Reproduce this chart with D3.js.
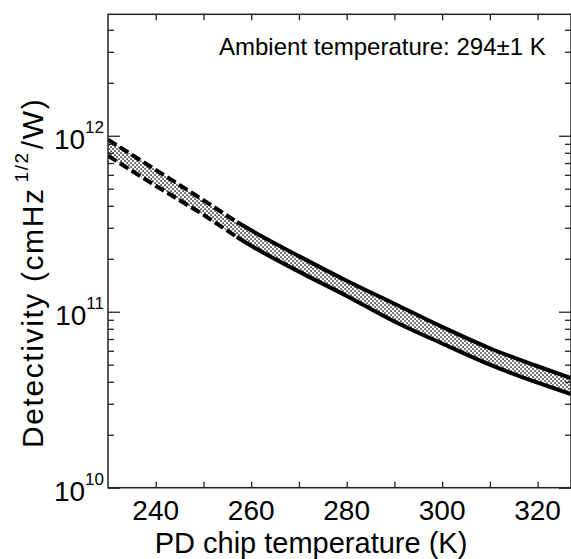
<!DOCTYPE html>
<html lang="en">
<head>
<meta charset="UTF-8">
<title>Detectivity vs PD chip temperature</title>
<script src="https://cdn.jsdelivr.net/npm/d3@7"></script>
<style>
    body { margin: 0; background: #fff; }
    text { font-family: "Liberation Sans", Arial, Helvetica, sans-serif; fill: #000; }
</style>
</head>
<body>
<div id="chart"></div>
<script>
    // values
    var temps  = [230, 240, 250, 257, 260, 270, 280, 290, 300, 310, 320, 327];
    var upperD = [9.5e11, 6.4e11, 4.3e11, 3.23e11, 2.9e11, 2.07e11, 1.5e11, 1.11e11, 8.2e10, 6.2e10, 4.9e10, 4.2e10];
    var lowerD = [7.7e11, 5.2e11, 3.55e11, 2.66e11, 2.37e11, 1.69e11, 1.23e11, 8.8e10, 6.6e10, 5.0e10, 3.95e10, 3.4e10];
    var splitT = 257;   // curves are dashed below this temperature

    var xLabels = [240, 260, 280, 300, 320];
    var xMinor  = [240, 250, 260, 270, 280, 290, 300, 310, 320];
    var yDecades = [10, 11, 12];
    var annotation = "Ambient temperature: 294\u00b11 K";

    var W = 571, H = 559;
    var m = {left: 108, right: 571, top: 14.3, bottom: 487.7};

    var x = d3.scaleLinear().domain([230, 327]).range([m.left, m.right]);
    var y = d3.scaleLog().domain([1e10, 4.9e12]).range([m.bottom, m.top]);

    var svg = d3.select("#chart").append("svg")
        .attr("width", W).attr("height", H);

    // stipple pattern for the band
    var defs = svg.append("defs");
    var pat = defs.append("pattern")
        .attr("id", "stipple")
        .attr("patternUnits", "userSpaceOnUse")
        .attr("width", 4).attr("height", 4);
    pat.append("rect").attr("width", 4).attr("height", 4).attr("fill", "#fff");
    pat.append("rect").attr("x", 0.3).attr("y", 0.3).attr("width", 1.5).attr("height", 1.5).attr("fill", "#111");
    pat.append("rect").attr("x", 2.3).attr("y", 2.3).attr("width", 1.5).attr("height", 1.5).attr("fill", "#111");

    defs.append("clipPath").attr("id", "plotClip")
        .append("rect")
        .attr("x", m.left).attr("y", m.top)
        .attr("width", m.right - m.left).attr("height", m.bottom - m.top);

    var rows = temps.map(function (t, i) { return { t: t, hi: upperD[i], lo: lowerD[i] }; });

    var plot = svg.append("g").attr("clip-path", "url(#plotClip)");

    var band = d3.area()
        .curve(d3.curveMonotoneX)
        .x(function (d) { return x(d.t); })
        .y0(function (d) { return y(d.lo); })
        .y1(function (d) { return y(d.hi); });

    plot.append("path")
        .datum(rows)
        .attr("d", band)
        .attr("fill", "url(#stipple)");

    function edge(key) {
        return d3.line()
            .curve(d3.curveMonotoneX)
            .x(function (d) { return x(d.t); })
            .y(function (d) { return y(d[key]); });
    }

    var dashedRows = rows.filter(function (d) { return d.t <= splitT; });
    var solidRows = rows.filter(function (d) { return d.t >= splitT; });

    ["hi", "lo"].forEach(function (key) {
        plot.append("path")
            .datum(dashedRows)
            .attr("d", edge(key))
            .attr("fill", "none")
            .attr("stroke", "#000")
            .attr("stroke-width", 4)
            .attr("stroke-dasharray", "10,4");
        plot.append("path")
            .datum(solidRows)
            .attr("d", edge(key))
            .attr("fill", "none")
            .attr("stroke", "#000")
            .attr("stroke-width", 4)
            .attr("stroke-linejoin", "round");
    });

    // minor log ticks 2..9 of each decade
    var yMinor = [];
    yDecades.forEach(function (p) {
        for (var k = 2; k <= 9; k++) {
            var v = k * Math.pow(10, p);
            if (v <= 4.9e12) yMinor.push(v);
        }
    });
    var yMajor = yDecades.map(function (p) { return Math.pow(10, p); });

    function tickAxis(axis, transform) {
        var g = svg.append("g").attr("transform", transform).call(axis);
        g.select(".domain").remove();
        g.selectAll("line").attr("stroke", "#222").attr("stroke-width", 1.3);
        return g;
    }

    // ticks point inward on all four sides
    tickAxis(d3.axisLeft(y).tickValues(yMajor).tickSize(-12).tickFormat(""), "translate(" + m.left + ",0)");
    tickAxis(d3.axisLeft(y).tickValues(yMinor).tickSize(-6).tickFormat(""), "translate(" + m.left + ",0)");
    tickAxis(d3.axisRight(y).tickValues(yMajor).tickSize(-12).tickFormat(""), "translate(" + m.right + ",0)");
    tickAxis(d3.axisRight(y).tickValues(yMinor).tickSize(-6).tickFormat(""), "translate(" + m.right + ",0)");
    tickAxis(d3.axisBottom(x).tickValues(xMinor).tickSize(-6).tickFormat(""), "translate(0," + m.bottom + ")");
    tickAxis(d3.axisTop(x).tickValues(xMinor).tickSize(-6).tickFormat(""), "translate(0," + m.top + ")");

    // frame
    svg.append("rect")
        .attr("x", m.left).attr("y", m.top)
        .attr("width", m.right - m.left).attr("height", m.bottom - m.top)
        .attr("fill", "none")
        .attr("stroke", "#222")
        .attr("stroke-width", 1.5);

    // y tick labels 10^n
    yDecades.forEach(function (p) {
        var t = svg.append("text")
            .attr("x", 104)
            .attr("y", y(Math.pow(10, p)) + 13)
            .attr("text-anchor", "end");
        t.append("tspan").attr("font-size", 28).text("10");
        t.append("tspan").attr("font-size", 17).attr("dy", -16).text(p);
    });

    // x tick labels
    svg.selectAll("text.xlab")
        .data(xLabels)
        .enter()
        .append("text")
        .attr("class", "xlab")
        .attr("x", function (d) { return x(d); })
        .attr("y", 520)
        .attr("text-anchor", "middle")
        .attr("font-size", 28)
        .text(function (d) { return d; });

    // axis titles
    svg.append("text")
        .attr("x", 311)
        .attr("y", 553)
        .attr("text-anchor", "middle")
        .attr("font-size", 29)
        .text("PD chip temperature (K)");

    var yt = svg.append("text")
        .attr("transform", "translate(43,448) rotate(-90)")
        .attr("text-anchor", "start")
        .attr("font-size", 30)
        .attr("letter-spacing", 1.6);
    yt.append("tspan").text("Detectivity (cmHz");
    yt.append("tspan").attr("font-size", 19).attr("dy", -15).attr("dx", 5).text("1/2");
    yt.append("tspan").attr("dy", 15).attr("dx", 2).text("/W)");

    svg.append("text")
        .attr("x", 219)
        .attr("y", 55)
        .attr("font-size", 24)
        .text(annotation);
</script>
</body>
</html>
